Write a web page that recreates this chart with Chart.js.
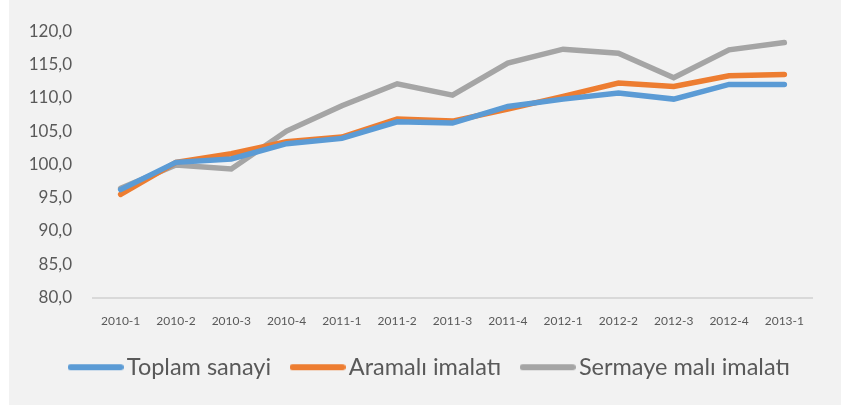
<!DOCTYPE html>
<html>
<head>
<meta charset="utf-8">
<script src="https://cdn.jsdelivr.net/npm/chart.js@4"></script>
<style>
  body { margin: 0; background: #ffffff; }
  #wrap { position: absolute; left: 9px; top: 0; width: 832px; height: 405px; background: #f2f2f2; }
</style>
</head>
<body>
<div id="wrap"><canvas id="lineChart" width="832" height="405"></canvas></div>
<script>
// quarters on the x axis
const quarters = ['2010-1', '2010-2', '2010-3', '2010-4', '2011-1', '2011-2', '2011-3',
                  '2011-4', '2012-1', '2012-2', '2012-3', '2012-4', '2013-1'];

// index values
const toplamSanayi = [96.2, 100.3, 100.8, 103.1, 103.9, 106.4, 106.2, 108.7, 109.8, 110.7, 109.8, 112.0, 112.0];
const aramaliImalati = [95.5, 100.3, 101.6, 103.4, 104.1, 106.8, 106.5, 108.3, 110.2, 112.2, 111.7, 113.3, 113.5];
const sermayeMaliImalati = [96.4, 99.9, 99.3, 105.0, 108.8, 112.1, 110.4, 115.2, 117.3, 116.7, 113.0, 117.2, 118.3];

const seriesNames = ['Toplam sanayi', 'Aramalı imalatı', 'Sermaye malı imalatı'];
const seriesColors = ['#5b9bd5', '#ed7d31', '#a5a5a5'];

// small canvas used as legend marker: a thick round-capped line
function legendLine(color) {
    const c = document.createElement('canvas');
    c.width = 56;
    c.height = 8;
    const g = c.getContext('2d');
    g.strokeStyle = color;
    g.lineWidth = 6;
    g.lineCap = 'round';
    g.beginPath();
    g.moveTo(3, 4);
    g.lineTo(53, 4);
    g.stroke();
    return c;
}

function makeSet(i, values) {
    return {
        label: seriesNames[i],
        data: values,
        borderColor: seriesColors[i],
        backgroundColor: seriesColors[i],
        borderWidth: 5.5,
        borderCapStyle: 'round',
        borderJoinStyle: 'miter',
        pointRadius: 0,
        pointHoverRadius: 0,
        fill: false,
        tension: 0
    };
}

const ctx = document.getElementById('lineChart').getContext('2d');
const chart = new Chart(ctx, {
    type: 'line',
    data: {
        labels: quarters,
        datasets: [
            makeSet(0, toplamSanayi),
            makeSet(1, aramaliImalati),
            makeSet(2, sermayeMaliImalati)
        ]
    },
    options: {
        responsive: false,
        animation: false,
        layout: { padding: { top: 31, right: 0, bottom: 16, left: 16 } },
        plugins: {
            tooltip: { enabled: false },
            legend: {
                position: 'bottom',
                labels: {
                    usePointStyle: true,
                    pointStyleWidth: 39,
                    color: '#595959',
                    font: { family: 'Lato', size: 23.5 },
                    padding: 27,
                    generateLabels: function(chart) {
                        const items = Chart.defaults.plugins.legend.labels.generateLabels(chart);
                        items.forEach(function(item, i) {
                            item.pointStyle = legendLine(seriesColors[i]);
                        });
                        return items;
                    }
                }
            }
        },
        scales: {
            x: {
                offset: true,
                grid: { display: false, drawTicks: false },
                border: { color: '#d9d9d9', width: 2 },
                ticks: {
                    color: '#595959',
                    font: { family: 'Lato', size: 12 },
                    padding: 16,
                    maxRotation: 0,
                    autoSkip: false
                },
                afterFit: function(scale) { scale.height = 31; }
            },
            y: {
                min: 80,
                max: 120,
                grid: { display: false, drawTicks: false },
                border: { display: false },
                ticks: {
                    stepSize: 5,
                    color: '#595959',
                    font: { family: 'Lato', size: 17 },
                    padding: 21,
                    callback: function(v) { return v.toFixed(1).replace('.', ','); }
                },
                afterFit: function(scale) { scale.width = 68; }
            },
            // empty right axis, only keeps space on the right of the plot
            yRight: {
                type: 'linear',
                position: 'right',
                grid: { display: false, drawTicks: false },
                border: { display: false },
                ticks: { display: false },
                afterFit: function(scale) { scale.width = 29; }
            }
        }
    }
});
</script>
</body>
</html>
